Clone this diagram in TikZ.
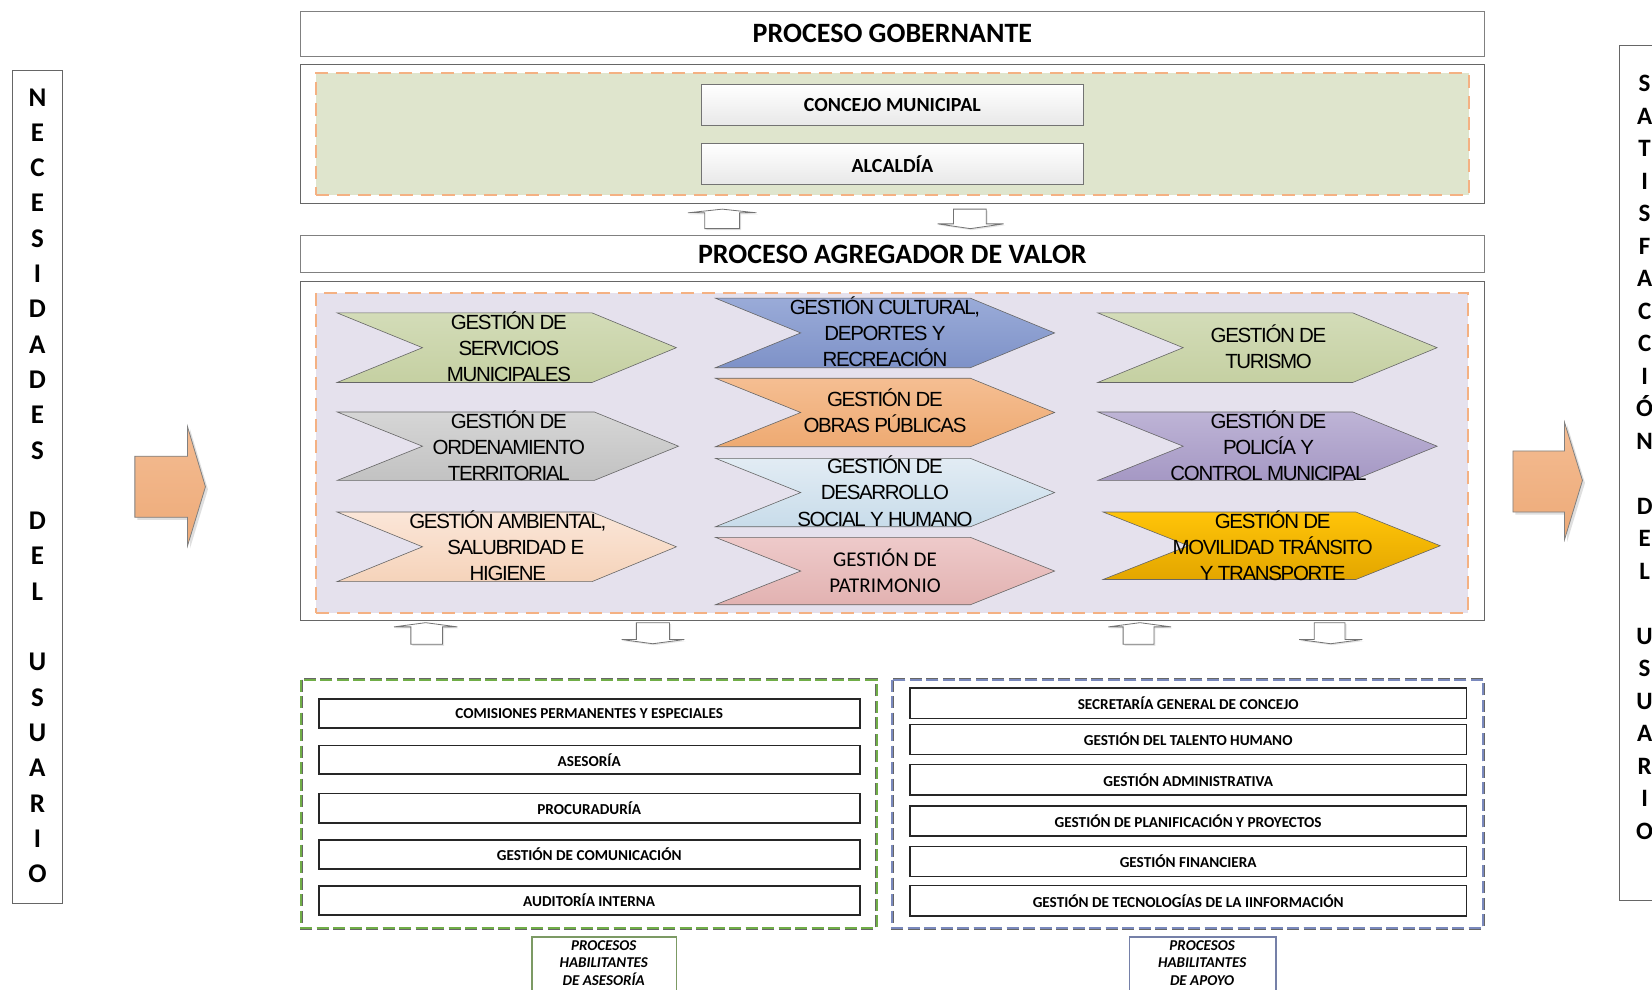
\documentclass[tikz,border=0pt]{standalone}
\usepackage{fontspec}
\setmainfont{Carlito}
\newfontfamily\chevfont[LetterSpace=-6.5]{Liberation Sans}
\usetikzlibrary{shadows,fit}
\definecolor{dashor}{HTML}{F4B183}
\definecolor{govgreen}{HTML}{DFE5CD}
\definecolor{lav}{HTML}{E5E1ED}
\definecolor{grnA}{HTML}{D3DCB8}\definecolor{grnB}{HTML}{C5D0A2}
\definecolor{gryA}{HTML}{D6D6D6}\definecolor{gryB}{HTML}{C2C2C2}
\definecolor{pchA}{HTML}{FBE6D8}\definecolor{pchB}{HTML}{F5D3BA}
\definecolor{bluA}{HTML}{9AABD8}\definecolor{bluB}{HTML}{7E92C8}
\definecolor{orgA}{HTML}{F5BE92}\definecolor{orgB}{HTML}{EEAA72}
\definecolor{lbA}{HTML}{E2ECF4}\definecolor{lbB}{HTML}{C8DCEA}
\definecolor{pnkA}{HTML}{EECACA}\definecolor{pnkB}{HTML}{E2B2B1}
\definecolor{purA}{HTML}{BEB4D6}\definecolor{purB}{HTML}{A598C4}
\definecolor{gldA}{HTML}{FFC408}\definecolor{gldB}{HTML}{E3A600}
\definecolor{bigA}{HTML}{F4BC92}\definecolor{bigB}{HTML}{EDAA78}
\definecolor{gdash}{HTML}{70AD47}
\definecolor{bdash}{HTML}{7A89BD}
\definecolor{lblg}{HTML}{7C9A64}
\definecolor{lblb}{HTML}{7580A8}
\newcommand\chevshape[6]{%
  \path[chevsty,#6] (#2,#3) -- ({#4-80},#3) -- (#4,{(#3+#5)/2}) -- ({#4-80},#5) -- (#2,#5) -- ({#2+81},{(#3+#5)/2}) -- cycle;
  \coordinate (#1) at ({(#2+#4)/2},{(#3+#5)/2});}
\begin{document}
\begin{tikzpicture}[x=1.0536pt,y=-1.0536pt,
  frame/.style={draw=black!60, line width=1pt, fill=white, inner sep=0pt},
  hfont/.style={font=\bfseries\fontsize{28}{30}\selectfont},
  orgdash/.style={draw=dashor, line width=2.2pt, dash pattern=on 13pt off 8pt, inner sep=0pt},
  gradbox/.style={draw=black!55, line width=0.9pt, top color=white, bottom color=black!9, inner sep=0pt},
  gfont/.style={font=\bfseries\fontsize{20}{22}\selectfont, inner sep=0pt},
  chevsty/.style={draw=black!60, line width=0.6pt},
  ctext/.style={align=center, inner sep=0pt, font=\chevfont\fontsize{20.5}{26.3}\selectfont},
  cal/.style={align=center, inner sep=0pt, font=\fontsize{21}{26.3}\selectfont},
  bitem/.style={draw=black!85, line width=1.6pt, fill=white, inner sep=0pt},
  bfont/.style={inner sep=0pt, font=\bfseries\fontsize{15.2}{17}\selectfont},
  hollow/.style={fill=white, draw=black!55, line width=0.8pt, drop shadow={shadow xshift=1.5pt,shadow yshift=-1.5pt,opacity=0.2}},
  bigarrow/.style={draw=black!50, line width=0.8pt, top color=bigA, bottom color=bigB, drop shadow={shadow xshift=2.5pt,shadow yshift=-2.5pt,opacity=0.25}},
  vtext/.style={align=center, inner sep=0pt, font=\bfseries\fontsize{27}{35.3}\selectfont},
  lbl/.style={align=center, inner sep=0pt, font=\bfseries\itshape\fontsize{15}{17.6}\selectfont}
]
\useasboundingbox (0,0) rectangle (1568,939);
\clip (0,0) rectangle (1568,939);
\fill[white] (0,0) rectangle (1568,939);

% side boxes
\node[frame, fit={(12,67) (59,858)}] (needbox) {};
\node[vtext] (needtxt) at (35.5,461) {N\\E\\C\\E\\S\\I\\D\\A\\D\\E\\S\\\mbox{}\\D\\E\\L\\\mbox{}\\U\\S\\U\\A\\R\\I\\O};
\node[frame, fit={(1537,43) (1600,855)}] (satbox) {};
\node[vtext, font=\bfseries\fontsize{25}{32.5}\selectfont] (sattxt) at (1561,434) {S\\A\\T\\I\\S\\F\\A\\C\\C\\I\\Ó\\N\\\mbox{}\\D\\E\\L\\\mbox{}\\U\\S\\U\\A\\R\\I\\O};

% big arrows
\path[bigarrow] (128,433) -- (178,433) -- (178,405) -- (195,462) -- (178,518) -- (178,491) -- (128,491) -- cycle;
\path[bigarrow] (1436,428) -- (1485,428) -- (1485,401) -- (1502,456) -- (1485,512) -- (1485,486) -- (1436,486) -- cycle;

% governing process
\node[frame, draw=black!50, fit={(285,10.5) (1409,54)}] (gob) {};
\node[hfont] (gobt) at (847,31.5) {PROCESO GOBERNANTE};
\node[frame, fit={(285,61) (1409,193.5)}] (govc) {};
\node[orgdash, fill=govgreen, fit={(300,69.6) (1394,185)}] (govin) {};
\node[gradbox, fit={(666,80) (1028.5,119.3)}] (concejo) {};
\node[gfont] (concejot) at (847,100) {CONCEJO MUNICIPAL};
\node[gradbox, fit={(666,136) (1028.5,175)}] (alc) {};
\node[gfont] (alct) at (847,156) {ALCALDÍA};

% hollow arrows top
\path[hollow] (669,217) -- (669,202) -- (653,202) -- (685.5,198.5) -- (718,202) -- (702,202) -- (702,217) -- cycle;
\path[hollow] (905,198.5) -- (936,198.5) -- (936,212.5) -- (952.5,212.5) -- (921,217) -- (890,212.5) -- (905,212.5) -- cycle;

% value process
\node[frame, draw=black!50, fit={(285,223.4) (1409,258.8)}] (agr) {};
\node[hfont] (agrt) at (847,241.5) {PROCESO AGREGADOR DE VALOR};
\node[frame, fit={(285,267.3) (1409,588.5)}] (valc) {};
\node[orgdash, fill=lav, fit={(300,277.8) (1393.5,582)}] (valin) {};

\chevshape{c11}{320}{297}{642}{363}{top color=grnA,bottom color=grnB}
\chevshape{c12}{320}{391}{644}{456}{top color=gryA,bottom color=gryB}
\chevshape{c13}{320}{486}{642}{552}{top color=pchA,bottom color=pchB}
\chevshape{c21}{679}{283}{1001}{349}{top color=bluA,bottom color=bluB}
\chevshape{c22}{679}{359}{1001}{424}{top color=orgA,bottom color=orgB}
\chevshape{c23}{679}{435}{1001}{500}{top color=lbA,bottom color=lbB}
\chevshape{c24}{679}{510}{1001}{574}{top color=pnkA,bottom color=pnkB}
\chevshape{c31}{1042}{297}{1364}{363}{top color=grnA,bottom color=grnB}
\chevshape{c32}{1042}{391}{1364}{456}{top color=purA,bottom color=purB}
\chevshape{c33}{1047}{486}{1367}{550}{top color=gldA,bottom color=gldB}

\node[ctext] (t11) at (483,329) {GESTIÓN DE\\SERVICIOS\\MUNICIPALES};
\node[ctext] (t12) at (483,423) {GESTIÓN DE\\ORDENAMIENTO\\TERRITORIAL};
\node[ctext] (t13) at (482,518) {GESTIÓN AMBIENTAL,\\\hspace*{16pt}SALUBRIDAD E\\HIGIENE};
\node[ctext] (t21) at (840,315) {GESTIÓN CULTURAL,\\DEPORTES Y\\RECREACIÓN};
\node[ctext] (t22) at (840,390) {GESTIÓN DE\\OBRAS PÚBLICAS};
\node[ctext] (t23) at (840,466) {GESTIÓN DE\\DESARROLLO\\SOCIAL Y HUMANO};
\node[cal] (t24) at (840,542) {GESTIÓN DE\\PATRIMONIO};
\node[ctext] (t31) at (1204,329) {GESTIÓN DE\\TURISMO};
\node[ctext] (t32) at (1204,423) {GESTIÓN DE\\POLICÍA Y\\CONTROL MUNICIPAL};
\node[ctext] (t33) at (1208,518) {GESTIÓN DE\\MOVILIDAD TRÁNSITO\\Y TRANSPORTE};

% hollow arrows bottom
\path[hollow] (390,611.5) -- (390,595) -- (374,595) -- (404,591) -- (434,595) -- (420,595) -- (420,611.5) -- cycle;
\path[hollow] (604,591) -- (635.5,591) -- (635.5,607) -- (649.5,607) -- (619.6,611) -- (590,607) -- (604,607) -- cycle;
\path[hollow] (1066,611.5) -- (1066,595) -- (1052,595) -- (1082,591) -- (1111.5,595) -- (1095.3,595) -- (1095.3,611.5) -- cycle;
\path[hollow] (1247.5,591) -- (1276.6,591) -- (1276.6,607) -- (1293,607) -- (1263,611) -- (1233,607) -- (1247.5,607) -- cycle;

% advisory processes
\draw[draw=black!60, line width=3.4pt, dash pattern=on 12pt off 4.5pt] (286,645) rectangle (832,881);
\draw[draw=gdash, line width=2pt, dash pattern=on 12pt off 4.5pt] (286,645) rectangle (832,881);
\node[bitem, fit={(302.5,663.7) (816,690.7)}] (a1) {};
\node[bitem, fit={(302.5,707.7) (816,734.6)}] (a2) {};
\node[bitem, fit={(302.5,753) (816,781)}] (a3) {};
\node[bitem, fit={(302.5,797) (816,825)}] (a4) {};
\node[bitem, fit={(302.5,841) (816,868.5)}] (a5) {};
\node[bfont] (a1t) at (a1.center) {COMISIONES PERMANENTES Y ESPECIALES};
\node[bfont] (a2t) at (a2.center) {ASESORÍA};
\node[bfont] (a3t) at (a3.center) {PROCURADURÍA};
\node[bfont] (a4t) at (a4.center) {GESTIÓN DE COMUNICACIÓN};
\node[bfont] (a5t) at (a5.center) {AUDITORÍA INTERNA};

% support processes
\draw[draw=black!60, line width=3.4pt, dash pattern=on 12pt off 4.5pt] (847,645) rectangle (1408,881);
\draw[draw=bdash, line width=2pt, dash pattern=on 12pt off 4.5pt] (847,645) rectangle (1408,881);
\node[bitem, fit={(863.5,653) (1392,682)}] (s1) {};
\node[bitem, fit={(863.5,687.5) (1392,716)}] (s2) {};
\node[bitem, fit={(863.5,725.5) (1392,754.6)}] (s3) {};
\node[bitem, fit={(863.5,765) (1392,793.5)}] (s4) {};
\node[bitem, fit={(863.5,803.6) (1392,832)}] (s5) {};
\node[bitem, fit={(863.5,840.6) (1392,869.4)}] (s6) {};
\node[bfont] (s1t) at (s1.center) {SECRETARÍA GENERAL DE CONCEJO};
\node[bfont] (s2t) at (s2.center) {GESTIÓN DEL TALENTO HUMANO};
\node[bfont] (s3t) at (s3.center) {GESTIÓN ADMINISTRATIVA};
\node[bfont] (s4t) at (s4.center) {GESTIÓN DE PLANIFICACIÓN Y PROYECTOS};
\node[bfont] (s5t) at (s5.center) {GESTIÓN FINANCIERA};
\node[bfont] (s6t) at (s6.center) {GESTIÓN DE TECNOLOGÍAS DE LA IINFORMACIÓN};

% labels
\node[draw=lblg, line width=1.8pt, fill=white, inner sep=0pt, fit={(505,889.5) (642,955)}] (lblA) {};
\node[lbl] (lblAt) at (573,914) {PROCESOS\\HABILITANTES\\DE ASESORÍA};
\node[draw=lblb, line width=1.8pt, fill=white, inner sep=0pt, fit={(1072,889.5) (1211,955)}] (lblB) {};
\node[lbl] (lblBt) at (1141,914) {PROCESOS\\HABILITANTES\\DE APOYO};
\end{tikzpicture}
\end{document}
